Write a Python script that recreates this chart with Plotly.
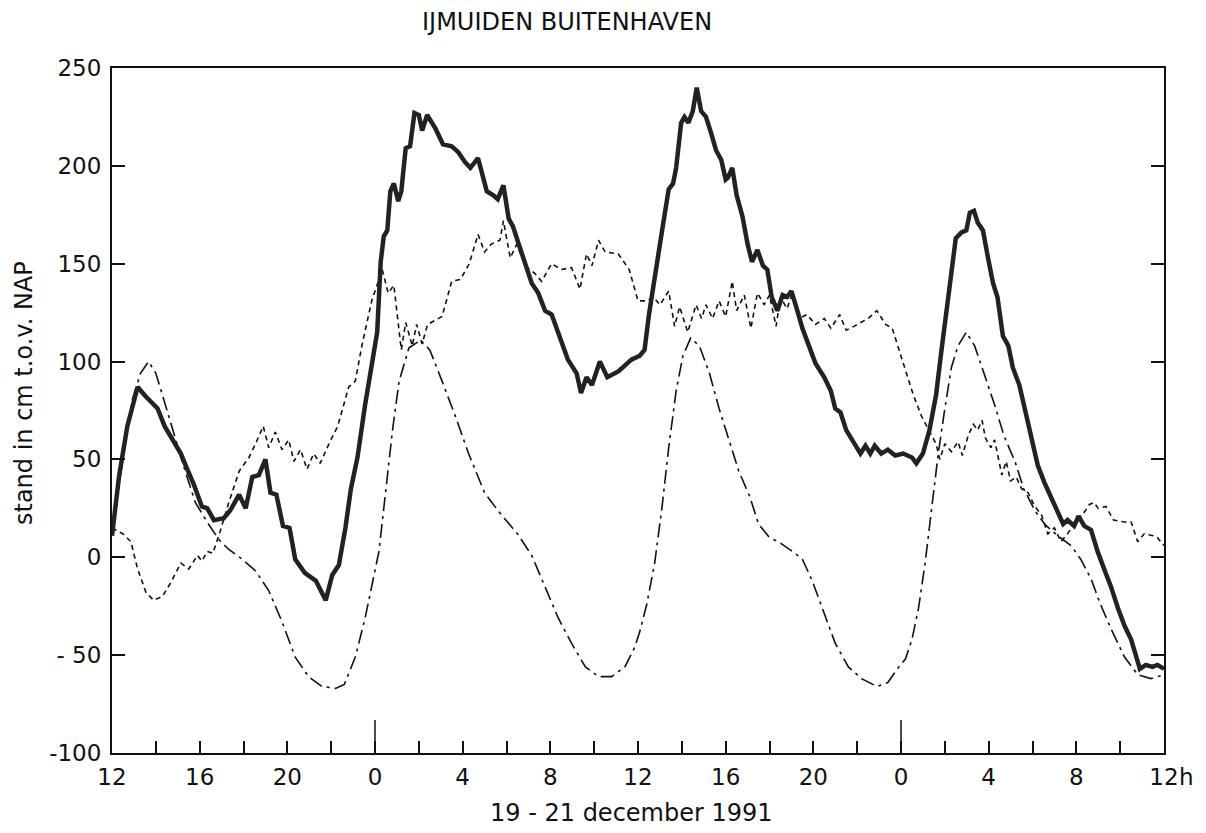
import plotly.graph_objects as go

# uren vanaf 19 dec 12:00 -> stand in cm t.o.v. NAP
# gemeten waterstand (dikke lijn)
uur_gemeten = [0, 0.33, 0.7, 1.17, 1.55, 2.08, 2.4, 2.76, 3.14, 3.36, 3.74, 4.1, 4.35, 4.65, 5.1,
               5.4, 5.8, 6.1, 6.4, 6.7, 7.0, 7.23, 7.5, 7.8, 8.1, 8.36, 8.6, 8.8, 9.05, 9.3,
               9.75, 10.05, 10.35, 10.65, 10.9, 11.2, 11.55, 11.9, 12.1, 12.26, 12.4, 12.56, 12.7, 12.86, 13.06,
               13.2, 13.4, 13.6, 13.8, 14.0, 14.15, 14.38, 14.76, 15.1, 15.5, 15.8, 16.1, 16.35, 16.7, 17.1,
               17.4, 17.6, 17.86, 18.1, 18.3, 18.5, 18.85, 19.15, 19.45, 19.76, 20.06, 20.36, 20.8, 21.2, 21.4,
               21.65, 21.9, 22.26, 22.6, 23.1, 23.7, 24.08, 24.3, 24.5, 24.8, 25.1, 25.4, 25.6, 25.74, 25.97,
               26.12, 26.3, 26.5, 26.68, 26.88, 27.1, 27.33, 27.56, 27.8, 28.0, 28.1, 28.3, 28.5, 28.77, 29.0,
               29.2, 29.45, 29.7, 29.9, 30.1, 30.36, 30.6, 30.8, 31.0, 31.27, 31.5, 31.8, 32.1, 32.5, 32.8,
               33.0, 33.24, 33.5, 33.8, 34.15, 34.38, 34.6, 34.8, 35.1, 35.4, 35.74, 36.1, 36.5, 36.7, 37.0,
               37.3, 37.6, 37.85, 38.1, 38.3, 38.5, 38.76, 38.98, 39.14, 39.33, 39.5, 39.74, 39.97, 40.2, 40.4,
               40.65, 40.9, 41.1, 41.4, 41.7, 42.0, 42.24, 42.55, 42.85, 43.15, 43.4, 43.6, 43.9, 44.1, 44.36,
               44.67, 44.97, 45.27, 45.58, 45.9, 46.2, 46.5, 46.7, 46.9, 47.17, 47.47, 47.7, 48.0]
stand_gemeten = [11, 42, 67, 87, 82, 76, 67, 60, 53, 47, 37, 26, 25, 19, 20,
                 24, 32, 25, 41, 42, 50, 33, 32, 16, 15, -1, -5, -8, -10, -12,
                 -22, -9, -4, 15, 35, 51, 78, 103, 115, 151, 164, 167, 187, 191, 182,
                 187, 209, 210, 227, 226, 218, 226, 219, 211, 210, 207, 202, 199, 204, 187,
                 185, 183, 190, 173, 169, 162, 151, 140, 135, 126, 124, 115, 101, 94, 84,
                 92, 88, 100, 92, 95, 101, 103, 106, 124, 147, 167, 188, 191, 199, 222,
                 225, 222, 228, 240, 228, 225, 217, 208, 203, 193, 194, 199, 185, 174, 160,
                 151, 157, 149, 147, 133, 126, 134, 133, 136, 126, 117, 108, 99, 92, 85,
                 76, 74, 65, 59, 53, 57, 53, 57, 53, 55, 52, 53, 51, 48, 53,
                 65, 83, 106, 128, 142, 163, 166, 167, 176, 177, 171, 167, 153, 140, 133,
                 113, 108, 97, 88, 74, 58, 47, 38, 31, 24, 17, 19, 16, 21, 16,
                 14, 3, -6, -15, -26, -35, -42, -49, -57, -55, -56, -55, -57]

# astronomisch getij (streep-punt)
uur_astro = [0, 0.48, 0.94, 1.3, 1.67, 2.0, 2.3, 2.76, 3.2, 3.8, 4.4, 4.88, 5.33, 5.94, 6.55,
             7.15, 7.76, 8.36, 8.97, 9.58, 10.2, 10.6, 11.1, 11.55, 12.0, 12.18, 12.5, 12.8, 13.1, 13.55,
             14.08, 14.5, 15.06, 15.67, 16.27, 17.0, 17.6, 18.5, 19.15, 19.76, 20.36, 20.97, 21.6, 22.2, 22.8,
             23.4, 23.85, 24.08, 24.4, 24.76, 25.1, 25.4, 25.74, 26.05, 26.4, 26.8, 27.26, 27.7, 28.2, 28.6,
             29.1, 29.5, 30.0, 30.4, 31.05, 31.5, 31.95, 32.4, 33.0, 33.6, 34.2, 34.9, 35.4, 35.9, 36.2,
             36.5, 36.8, 37.1, 37.4, 37.7, 38.0, 38.3, 38.6, 38.98, 39.36, 39.8, 40.27, 40.7, 41.2, 41.6,
             42.1, 42.55, 43.15, 43.76, 44.2, 44.67, 45.1, 45.6, 46.2, 46.8, 47.4, 48.0]
stand_astro = [12, 49, 81, 94, 100, 94, 83, 65, 49, 28, 17, 9, 4, -1, -7,
               -17, -33, -51, -61, -66, -67, -65, -51, -31, -8, 3, 35, 65, 90, 107,
               111, 106, 90, 72, 53, 33, 24, 12, 1, -15, -31, -44, -56, -61, -61,
               -56, -46, -38, -24, -3, 26, 56, 85, 103, 112, 108, 94, 76, 58, 44,
               31, 17, 10, 8, 3, -1, -12, -26, -44, -56, -62, -66, -64, -56, -52,
               -42, -26, -3, 26, 53, 76, 97, 108, 115, 108, 94, 78, 62, 49, 35,
               24, 17, 11, 6, -1, -11, -24, -37, -51, -60, -62, -60]

# opzet = gemeten - astronomisch (korte streepjes)
uur_opzet = [0, 0.5, 0.86, 1.17, 1.55, 1.9, 2.3, 2.68, 3.14, 3.5, 3.9, 4.1, 4.35, 4.6, 4.9,
             5.33, 5.8, 6.25, 6.55, 6.9, 7.15, 7.45, 7.76, 8.06, 8.3, 8.6, 8.9, 9.2, 9.5, 9.9,
             10.3, 10.8, 11.1, 11.4, 11.85, 12.1, 12.33, 12.6, 12.86, 13.2, 13.4, 13.7, 13.9, 14.15, 14.4,
             15.06, 15.5, 15.9, 16.3, 16.7, 17.0, 17.3, 17.7, 17.86, 18.17, 18.47, 18.85, 19.3, 19.6, 20.06,
             20.5, 20.97, 21.35, 21.65, 21.9, 22.2, 22.5, 23.1, 23.6, 24.0, 24.4, 24.7, 25.0, 25.4, 25.67,
             25.9, 26.27, 26.65, 26.9, 27.1, 27.4, 27.7, 28.0, 28.3, 28.5, 28.85, 29.15, 29.45, 29.76, 30.0,
             30.3, 30.5, 30.8, 31.05, 31.35, 31.7, 32.1, 32.5, 32.8, 33.2, 33.5, 33.85, 34.15, 34.5, 34.9,
             35.3, 35.6, 35.8, 36.1, 36.56, 36.94, 37.3, 37.6, 37.77, 38.0, 38.3, 38.6, 38.8, 39.06, 39.3,
             39.5, 39.7, 39.85, 40.1, 40.27, 40.4, 40.6, 40.8, 41.0, 41.26, 41.5, 41.8, 42.1, 42.4, 42.7,
             43.0, 43.3, 43.6, 43.9, 44.3, 44.6, 44.8, 45.0, 45.35, 45.7, 46.2, 46.5, 46.8, 47.1, 47.5,
             47.7, 48.0]
stand_opzet = [15, 12, 8, -6, -18, -22, -20, -13, -3, -6, 1, -2, 3, 2, 12,
               28, 44, 51, 58, 67, 56, 64, 55, 60, 49, 55, 45, 53, 48, 58,
               67, 87, 90, 108, 131, 140, 147, 135, 139, 106, 120, 108, 119, 109, 119,
               123, 141, 142, 150, 165, 156, 160, 162, 172, 153, 160, 149, 145, 141, 150,
               147, 148, 137, 155, 149, 162, 156, 155, 147, 131, 131, 133, 129, 136, 118,
               128, 115, 129, 122, 129, 122, 131, 123, 141, 126, 134, 117, 135, 129, 134,
               118, 133, 127, 135, 122, 124, 119, 122, 117, 124, 116, 118, 120, 122, 126,
               119, 117, 110, 99, 83, 72, 64, 58, 50, 58, 54, 59, 52, 62, 68,
               65, 70, 61, 56, 60, 53, 42, 49, 39, 41, 35, 33, 26, 22, 12,
               15, 8, 12, 17, 22, 27, 28, 25, 26, 19, 18, 18, 8, 12, 11,
               10, 6]

assert len(uur_gemeten) == len(stand_gemeten)
assert len(uur_astro) == len(stand_astro)
assert len(uur_opzet) == len(stand_opzet)

x_ticks = list(range(0, 49, 4))
x_labels = ["12", "16", "20", "0", "4", "8", "12", "16", "20", "0", "4", "8", "12"]
y_ticks = [-100, -50, 0, 50, 100, 150, 200, 250]
y_labels = ["-100", "- 50", "0", "50", "100", "150", "200", "250"]
middernacht = [12, 36]

FONT = "DejaVu Sans"
ZW = "#111"

fig = go.Figure()
fig.add_trace(go.Scatter(x=uur_astro, y=stand_astro, mode="lines",
                         line=dict(color=ZW, width=1.6, dash="14px,5px,3px,5px")))
fig.add_trace(go.Scatter(x=uur_opzet, y=stand_opzet, mode="lines",
                         line=dict(color=ZW, width=1.6, dash="5px,4px")))
fig.add_trace(go.Scatter(x=uur_gemeten, y=stand_gemeten, mode="lines",
                         line=dict(color="#222", width=4.5)))

# lange streepjes op middernacht
for m in middernacht:
    fig.add_shape(type="line", xref="x", yref="y domain", x0=m, x1=m, y0=0, y1=0.048,
                  line=dict(color=ZW, width=1.5))

# pagina heeft 8px body-marge: figuur iets kleiner zodat alles past
fig.update_layout(
    width=1198, height=825,
    paper_bgcolor="#fff", plot_bgcolor="#fff",
    font=dict(family=FONT, size=23, color=ZW),
    margin=dict(l=104, r=42, t=60, b=80),
    showlegend=False,
    xaxis=dict(range=[0, 48], tickvals=x_ticks, ticktext=x_labels,
               ticks="inside", ticklen=12, tickwidth=1.5, tickcolor=ZW,
               minor=dict(ticks="inside", dtick=2, tick0=0, ticklen=12, tickwidth=1.5, tickcolor=ZW),
               showline=True, linewidth=2, linecolor=ZW, mirror=True,
               showgrid=False, zeroline=False, ticklabelstandoff=2),
    yaxis=dict(range=[-100, 250], tickvals=y_ticks, ticktext=y_labels,
               ticks="inside", ticklen=13, tickwidth=1.5, tickcolor=ZW,
               showline=True, linewidth=2, linecolor=ZW, mirror="ticks",
               showgrid=False, zeroline=False, ticklabelstandoff=4),
    annotations=[
        dict(text="IJMUIDEN BUITENHAVEN", xref="paper", yref="paper", x=0.4325, y=1.0,
             yshift=46, xanchor="center", yanchor="middle", showarrow=False,
             font=dict(size=24)),
        dict(text="19 - 21 december 1991", xref="paper", yref="paper", x=0.494, y=0,
             yshift=-60, xanchor="center", yanchor="middle", showarrow=False,
             font=dict(size=24)),
        dict(text="stand in cm t.o.v. NAP", xref="paper", yref="paper", x=0, y=0.5255,
             xshift=-88, xanchor="center", yanchor="middle", textangle=-90,
             showarrow=False, font=dict(size=24)),
        dict(text="h", xref="x", yref="paper", x=48, y=0, xshift=22, yshift=-24,
             xanchor="center", yanchor="middle", showarrow=False, font=dict(size=23)),
    ],
)

fig.write_html("out.html")
